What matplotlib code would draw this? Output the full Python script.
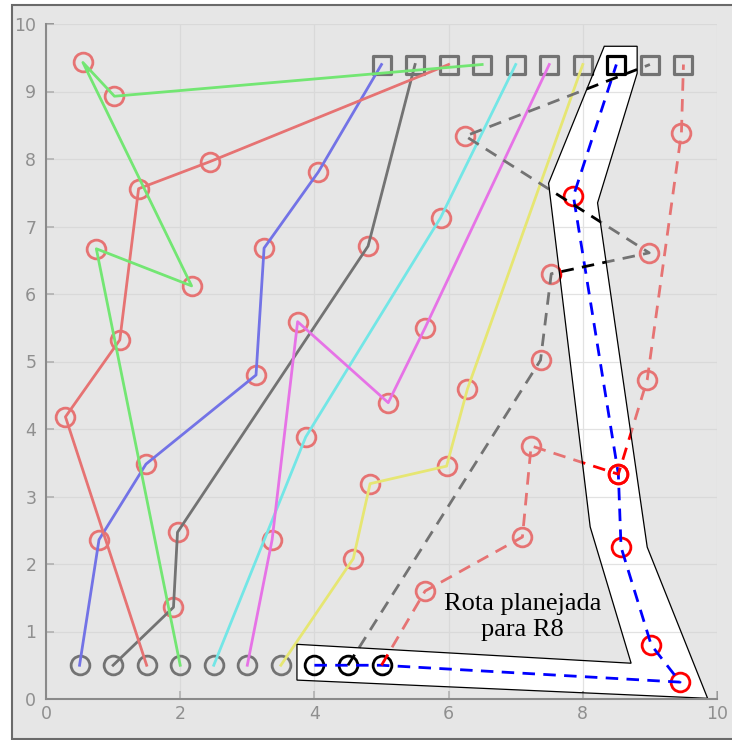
import matplotlib
matplotlib.use('Agg')
import matplotlib.pyplot as plt
from matplotlib.markers import MarkerStyle
from matplotlib.path import Path
from matplotlib.patches import PathPatch, Polygon, Rectangle

# start / goal positions of the 10 robots
start_x = [0.5, 1.0, 1.5, 2.0, 2.5, 3.0, 3.5, 4.0, 4.5, 5.0]
start_y = [0.5] * 10
goal_x = [5.0, 5.5, 6.0, 6.5, 7.0, 7.5, 8.0, 8.5, 9.0, 9.5]
goal_y = [9.4] * 10

# waypoints (tasks) visited by each robot, in order
wp_x = [
    [0.79, 1.49, 3.13, 3.25, 4.06],
    [1.90, 1.96, 4.80],
    [0.29, 1.10, 1.38, 2.44],
    [0.75, 2.17, 0.55, 1.02],
    [3.87, 5.88],
    [3.37, 3.75, 5.10, 5.65],
    [4.58, 4.83, 5.97, 6.28],
    [9.45, 9.02, 8.57, 8.53, 7.86],
    [7.37, 7.53, 8.99, 6.25],
    [5.65, 7.10, 7.23, 8.53, 8.96, 9.47],
]
wp_y = [
    [2.36, 3.48, 4.80, 6.68, 7.81],
    [1.36, 2.47, 6.71],
    [4.18, 5.32, 7.56, 7.96],
    [6.67, 6.12, 9.43, 8.93],
    [3.88, 7.13],
    [2.36, 5.59, 4.39, 5.50],
    [2.08, 3.19, 3.45, 4.59],
    [0.25, 0.80, 2.25, 3.33, 7.45],
    [5.02, 6.30, 6.61, 8.34],
    [1.60, 2.40, 3.75, 3.33, 4.73, 8.39],
]
# R8 first drives along the start row
r8_via_x = [4.5, 5.0]
r8_via_y = [0.5, 0.5]

# matlab-style pure colours
colors = ['#0000ff', '#000000', '#ff0000', '#00ff00', '#00ffff',
          '#ff00ff', '#ffff00', '#0000ff', '#000000', '#ff0000']
styles = ['-'] * 7 + ['--'] * 3

# planned corridor for R8
corridor_x = [8.32, 8.81, 8.81, 8.22, 8.96, 9.86, 3.74, 3.74, 8.72, 8.11, 7.49]
corridor_y = [9.67, 9.67, 9.27, 7.35, 2.25, 0.01, 0.28, 0.81, 0.53, 2.55, 7.64]

fig = plt.figure(figsize=(7.32, 7.40), dpi=100, facecolor='white')
fig.patches.append(Rectangle((12 / 732, 1 / 740), 1.0, 1 - 6 / 740,
                             transform=fig.transFigure, facecolor='#e6e6e6',
                             edgecolor='#6a6a6a', lw=1.5, zorder=-10))
ax = fig.add_axes([46 / 732, 41 / 740, 671 / 732, 675 / 740])
ax.set_facecolor('white')

for i in range(10):
    xs = [start_x[i]] + wp_x[i] + [goal_x[i]]
    ys = [start_y[i]] + wp_y[i] + [goal_y[i]]
    if i == 7:
        xs = [start_x[i]] + r8_via_x + wp_x[i] + [goal_x[i]]
        ys = [start_y[i]] + r8_via_y + wp_y[i] + [goal_y[i]]
    line, = ax.plot(xs, ys, color=colors[i], ls=styles[i], lw=2, zorder=3)
    if styles[i] == '--':
        line.set_dashes((4.5, 3))
    ax.plot(wp_x[i], wp_y[i], 'o', mfc='none', mec='#ff0000', ms=13.5, mew=2, zorder=2)

ax.plot(start_x, start_y, 'o', mfc='none', mec='k', ms=13.5, mew=2, zorder=2)
ax.plot(goal_x, goal_y, ls='none', marker=MarkerStyle('s', joinstyle='round'),
        mfc='none', mec='k', ms=12.5, mew=2.3, zorder=2)

# grey veil over everything except the corridor
outer = [(-1, -1), (11, -1), (11, 11), (-1, 11)]   # counter-clockwise
inner = list(zip(corridor_x, corridor_y))
area = sum(inner[k - 1][0] * inner[k][1] - inner[k][0] * inner[k - 1][1]
           for k in range(len(inner)))
if area > 0:  # hole must run clockwise
    inner = inner[::-1]
verts = outer + [outer[0]] + inner + [inner[0]]
codes = ([Path.MOVETO] + [Path.LINETO] * 3 + [Path.CLOSEPOLY] +
         [Path.MOVETO] + [Path.LINETO] * (len(inner) - 1) + [Path.CLOSEPOLY])
veil = PathPatch(Path(verts, codes), facecolor=(0.822, 0.822, 0.822),
                 alpha=0.55, edgecolor='none', zorder=5)
ax.add_patch(veil)
veil.set_clip_path(ax.patch)

ax.add_patch(Polygon(list(zip(corridor_x, corridor_y)), closed=True, fill=False,
                     edgecolor='k', lw=0.9, zorder=6))
ax.text(7.1, 1.22, 'Rota planejada\npara R8', ha='center', va='center',
        fontsize=19, family='Liberation Serif', linespacing=1.25, zorder=7)

ax.set_xlim(0, 10)
ax.set_ylim(0, 10)
ax.set_xticks(range(0, 11, 2))
ax.set_yticks(range(0, 11))
ax.grid(True, color='#e2e2e2', lw=0.9)
ax.set_axisbelow(True)
for s in ['top', 'right']:
    ax.spines[s].set_visible(False)
for s in ['left', 'bottom']:
    ax.spines[s].set_color('#8a8a8a')
    ax.spines[s].set_linewidth(1.5)
    ax.spines[s].set_zorder(8)
ax.tick_params(direction='in', length=6, width=1.2, color='#8a8a8a',
               labelcolor='#8f8f8f', labelsize=12.5)
ax.tick_params(axis='y', pad=7)
ax.tick_params(axis='x', pad=4)

fig.savefig('out.png', dpi=100, facecolor=fig.get_facecolor())
